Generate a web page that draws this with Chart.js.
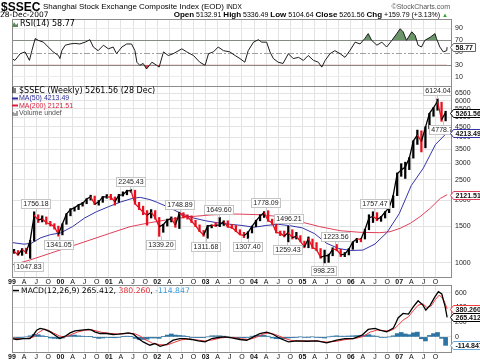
<!DOCTYPE html>
<html>
<head>
<meta charset="utf-8">
<script src="https://cdn.jsdelivr.net/npm/chart.js@4.4.1/dist/chart.umd.min.js"></script>
<style>
  body { margin: 0; background: #fff; }
  #wrap { position: relative; width: 480px; height: 363px; overflow: hidden; font-family: "Liberation Sans", Arial, sans-serif; color: #000; }
  canvas { position: absolute; left: 0; top: 0; }
  .t { position: absolute; white-space: nowrap; line-height: 1; }
  .v { font-family: "DejaVu Sans", sans-serif; }
  .ic { display: inline-block; vertical-align: middle; margin-right: 2px; }
</style>
</head>
<body>
<div id="wrap">
  <canvas id="rsi" width="480" height="363"></canvas>
  <canvas id="price" width="480" height="363"></canvas>
  <canvas id="macd" width="480" height="363"></canvas>

  <div class="t" style="left:1px;top:1px;font-size:12px;font-weight:bold">$SSEC</div>
  <div class="t" style="left:43px;top:3px;font-size:8px">Shanghai Stock Exchange Composite Index (EOD) <span style="font-size:6.5px">INDX</span></div>
  <div class="t" style="right:30px;top:3px;font-size:7px;color:#555">©StockCharts.com</div>
  <div class="t v" style="left:0px;top:11px;font-size:7.5px">28-Dec-2007</div>
  <div class="t" style="right:32px;top:11px;font-size:7px"><b style="font-size:8px">Open</b> 5132.91 <b style="font-size:8px">High</b> 5336.49 <b style="font-size:8px">Low</b> 5104.64 <b style="font-size:8px">Close</b> 5261.56 <b style="font-size:8px">Chg</b> +159.79 (+3.13%) <span style="color:#2a2;font-size:6px">▲</span></div>

  <div class="t v" style="left:12px;top:20px;font-size:8px"><svg class="ic" width="6" height="6"><path d="M0 6 L2 1 L4 4 L6 2 L6 6 Z" fill="#5a8a5a"/></svg>RSI(14) 58.77</div>

  <div class="t v" style="left:12px;top:86.5px;font-size:8px"><svg class="ic" width="5" height="6"><path d="M1 0V6M3 1V6" stroke="#000" stroke-width="1"/></svg>$SSEC (Weekly) 5261.56 (28 Dec)</div>
  <div class="t" style="left:12px;top:94px;font-size:7px;color:#2b2b9a"><svg class="ic" width="6" height="3" style="margin-right:1px"><rect width="6" height="2" y="0.5" fill="#2b2b9a"/></svg>MA(50) 4213.49</div>
  <div class="t" style="left:12px;top:101.5px;font-size:7px;color:#d8203a"><svg class="ic" width="6" height="3" style="margin-right:1px"><rect width="6" height="2" y="0.5" fill="#d8203a"/></svg>MA(200) 2121.51</div>
  <div class="t" style="left:12px;top:109px;font-size:7px;color:#555"><svg class="ic" width="6" height="5" style="margin-right:1px"><path d="M1 5V1M3 5V2M5 5V0" stroke="#666" stroke-width="1.2"/></svg>Volume undef</div>

  <div class="t v" style="left:13px;top:287px;font-size:7.7px"><svg class="ic" width="6" height="3"><rect width="6" height="1.5" y="0.8" fill="#000"/></svg>MACD(12,26,9) 265.412, <span style="color:#e8303a">380.260</span>, <span style="color:#3a9ad8">-114.847</span></div>
</div>

<script>
// x axis: decimal years, quarter gridlines
const xMin = 1999.0;
const xMax = 2008.07;
const quarterTicks = [];
for (let y = 1999; y <= 2007; y++) for (let q = 0; q < 4; q++) quarterTicks.push(y + q / 4);
const monthLetters = ['A', 'J', 'O'];

// weekly $SSEC, read month by month (high / low / close)
const months = Array.from({ length: 108 }, (_, i) => 1999 + (i + 0.5) / 12);
const priceHigh = [
  1160,1145,1170,1175,1280,1756,1700,1680,1660,1580,1540,1500,
  1540,1720,1820,1850,1900,1950,2030,2110,2090,1990,2080,2125,
  2130,2070,2130,2190,2230,2245,2230,1950,1870,1780,1800,1780,
  1650,1530,1620,1660,1650,1749,1740,1700,1680,1600,1520,1430,
  1510,1520,1560,1650,1590,1590,1530,1510,1440,1400,1410,1500,
  1600,1700,1760,1778,1620,1560,1420,1420,1496,1440,1400,1350,
  1270,1330,1300,1250,1170,1150,1100,1180,1224,1160,1120,1170,
  1260,1310,1310,1450,1700,1757,1740,1670,1760,1840,2100,2700,
  2990,3040,3200,3850,4335,4300,4500,5220,5560,6124,5900,5340
];
const priceLow = [
  1110,1085,1085,1105,1048,1270,1560,1570,1530,1500,1450,1341,
  1361,1530,1680,1770,1800,1870,1920,2000,1900,1890,1950,2040,
  2010,1890,1950,2090,2120,2180,1910,1800,1700,1514,1640,1620,
  1339,1400,1500,1570,1480,1460,1640,1620,1560,1490,1410,1340,
  1311,1470,1490,1490,1510,1480,1460,1410,1360,1320,1307,1390,
  1490,1590,1650,1580,1530,1390,1350,1330,1259,1300,1300,1260,
  1180,1180,1170,1140,1050,998,1004,1080,1140,1070,1070,1090,
  1160,1250,1260,1300,1440,1560,1590,1580,1640,1740,1840,2100,
  2600,2540,2800,3180,3700,3404,3563,4400,5050,5400,4778,4800
];
const priceClose = [
  1134,1090,1158,1120,1279,1690,1601,1627,1556,1532,1489,1367,
  1535,1714,1800,1836,1895,1928,2023,2072,1910,1961,2070,2073,
  2066,1960,2112,2119,2214,2218,1920,1834,1746,1690,1748,1646,
  1491,1524,1603,1634,1515,1732,1672,1669,1581,1507,1421,1357,
  1499,1511,1510,1521,1576,1487,1477,1421,1367,1348,1397,1497,
  1590,1675,1742,1595,1555,1399,1386,1342,1396,1320,1340,1266,
  1191,1306,1181,1159,1060,1080,1083,1162,1155,1092,1099,1161,
  1258,1299,1298,1440,1641,1672,1612,1658,1752,1837,2099,2675,
  2786,2881,3183,3841,4109,3820,4471,5219,5552,5954,4871,5262
];
const priceTicks = [1000,1500,2000,2500,3000,3500,4000,4500,5000,5500,6000,6500];

const ma50Dates = [1999.00,1999.25,1999.40,1999.60,1999.80,2000.00,2000.25,2000.50,2000.75,2001.00,2001.25,2001.50,2001.65,2001.85,2002.00,2002.25,2002.50,2002.75,2003.00,2003.25,2003.50,2003.75,2004.00,2004.25,2004.50,2004.75,2005.00,2005.25,2005.50,2005.75,2006.00,2006.25,2006.50,2006.75,2007.00,2007.25,2007.50,2007.75,2007.99];
const ma50Values = [1250,1228,1240,1320,1365,1390,1490,1640,1760,1860,1960,2040,2060,2010,1950,1840,1720,1640,1590,1555,1530,1510,1480,1510,1530,1505,1470,1380,1240,1170,1145,1150,1230,1400,1720,2350,2850,3700,4213.49];
const ma200Dates = [1999.00,1999.37,1999.79,2000.20,2000.61,2001.02,2001.44,2001.85,2002.26,2002.68,2003.09,2003.50,2003.71,2004.13,2004.54,2004.95,2005.36,2005.78,2006.19,2006.60,2006.81,2007.02,2007.23,2007.43,2007.64,2007.85,2007.99];
const ma200Values = [975,1030,1110,1194,1285,1384,1490,1557,1616,1664,1695,1713,1712,1700,1664,1575,1490,1425,1400,1394,1409,1463,1547,1664,1826,2037,2121.51];

// labelled highs (H) and lows (L)
const annDates  = [1999.35,1999.49,1999.97,2001.44,2002.07,2002.47,2003.00,2003.27,2003.87,2004.24,2004.72,2004.69,2005.68,2005.43,2006.48,2007.79,2007.91];
const annValues = [1047.83,1756.18,1341.05,2245.43,1339.20,1748.89,1311.68,1649.60,1307.40,1778.09,1496.21,1259.43,1223.56,998.23,1757.47,6124.04,4778.73];
const annSide   = ['L','H','L','H','L','H','L','H','L','H','H','L','H','L','H','H','L'];

// RSI(14)
const rsiDates = [1999.00,1999.06,1999.17,1999.27,1999.36,1999.41,1999.48,1999.54,1999.65,1999.75,1999.85,1999.96,1999.99,2000.03,2000.10,2000.20,2000.30,2000.40,2000.51,2000.61,2000.68,2000.78,2000.89,2000.99,2001.09,2001.16,2001.27,2001.37,2001.47,2001.54,2001.58,2001.64,2001.71,2001.78,2001.89,2001.99,2002.04,2002.13,2002.23,2002.33,2002.51,2002.61,2002.75,2002.88,2002.99,2003.06,2003.16,2003.26,2003.37,2003.50,2003.61,2003.71,2003.81,2003.88,2003.99,2004.09,2004.16,2004.26,2004.33,2004.40,2004.50,2004.60,2004.71,2004.81,2004.92,2005.02,2005.12,2005.23,2005.33,2005.40,2005.47,2005.57,2005.67,2005.78,2005.88,2005.98,2006.09,2006.19,2006.29,2006.36,2006.43,2006.54,2006.64,2006.74,2006.85,2006.95,2007.02,2007.08,2007.15,2007.26,2007.33,2007.39,2007.46,2007.53,2007.64,2007.74,2007.77,2007.84,2007.91,2007.98,2007.99];
const rsiValues = [40,37,48,51,37,53,73,70,67,59,51,45,40,53,62,64,65,64,67,71,59,53,62,56,59,48,59,64,64,53,34,29,32,23,34,29,26,51,45,48,56,51,45,34,29,48,51,59,53,51,45,40,34,53,67,71,67,67,51,40,34,32,48,40,42,37,45,37,34,26,37,48,53,48,42,53,67,64,73,81,70,62,67,59,70,81,89,84,70,84,78,62,59,70,75,81,73,59,51,53,58.77];
const rsiTicks = [10,30,50,70,90];

// MACD(12,26,9)
const macdDates = [1999.00,1999.10,1999.23,1999.37,1999.44,1999.51,1999.58,1999.68,1999.79,1999.89,1999.99,2000.10,2000.20,2000.30,2000.44,2000.58,2000.65,2000.71,2000.82,2000.96,2001.09,2001.20,2001.30,2001.40,2001.51,2001.61,2001.71,2001.85,2001.95,2002.06,2002.20,2002.33,2002.47,2002.57,2002.71,2002.85,2002.99,2003.13,2003.26,2003.40,2003.54,2003.71,2003.85,2003.99,2004.12,2004.26,2004.40,2004.54,2004.71,2004.88,2005.09,2005.30,2005.50,2005.71,2005.88,2006.05,2006.23,2006.36,2006.50,2006.60,2006.74,2006.88,2006.93,2006.98,2007.08,2007.19,2007.29,2007.39,2007.49,2007.55,2007.64,2007.74,2007.81,2007.88,2007.95,2007.99];
const macdValues = [-22,-35,-22,-22,23,91,115,101,68,23,-22,10,55,82,91,101,91,68,46,46,33,37,46,55,37,-22,-68,-113,-90,-127,-100,-45,-22,-22,-35,-55,-68,-22,-8,0,-13,-35,-45,0,46,64,33,-22,-68,-55,-59,-55,-82,-45,-22,-22,23,101,115,91,68,120,190,260,319,310,409,491,432,364,432,546,614,583,409,265.412];
const signalDates = [1999.00,1999.15,1999.30,1999.45,1999.55,1999.65,1999.75,1999.85,1999.99,2000.10,2000.20,2000.35,2000.50,2000.62,2000.72,2000.85,2001.00,2001.15,2001.30,2001.45,2001.55,2001.65,2001.75,2001.90,2002.05,2002.20,2002.35,2002.50,2002.65,2002.80,2002.99,2003.15,2003.30,2003.45,2003.60,2003.75,2003.90,2004.05,2004.20,2004.32,2004.45,2004.60,2004.75,2004.90,2005.10,2005.30,2005.50,2005.70,2005.90,2006.10,2006.25,2006.40,2006.55,2006.68,2006.80,2006.90,2006.98,2007.08,2007.19,2007.29,2007.39,2007.49,2007.57,2007.66,2007.75,2007.83,2007.90,2007.95,2007.99];
const signalValues = [-15,-25,-20,0,60,100,90,55,10,0,25,65,90,98,85,62,50,40,42,50,40,10,-35,-85,-105,-110,-75,-40,-28,-40,-55,-40,-15,-5,-10,-28,-35,-5,40,55,30,-10,-45,-55,-55,-55,-70,-60,-35,-20,5,65,95,85,80,110,160,228,273,355,430,450,400,420,510,569,520,455,380.26];
const histValues = [
  -8,-12,-5,0,15,35,30,15,5,-15,-20,-25,
  -15,5,20,25,15,10,8,5,-10,-20,-15,-8,
  -10,-12,-5,5,10,5,-20,-35,-35,-30,-15,-15,
  -20,5,25,40,25,20,15,5,-5,-10,-10,-10,
  0,15,15,15,10,0,-5,-10,-10,-12,-8,10,
  20,25,20,10,-15,-25,-25,-25,-15,-10,-5,0,
  -5,-3,0,-5,-10,-15,0,10,15,10,10,12,
  15,18,15,25,30,15,10,-5,-8,0,15,45,
  60,40,30,55,65,-25,-55,20,45,60,-20,-115
];
const macdTicks = [0,200,400,600];

const red = '#e8101e';
const font7 = { family: 'Liberation Sans', size: 7 };
const pts = (xs, ys) => xs.map((x, i) => ({ x: x, y: ys[i] }));

function xAxis(showLabels) {
  return {
    type: 'linear', min: xMin, max: xMax, bounds: 'data', offset: false,
    afterBuildTicks: s => { s.ticks = quarterTicks.map(v => ({ value: v })); },
    afterFit: s => { s.height = showLabels ? 9 : 0; },
    grid: { color: '#e3e3e3', drawTicks: false, offset: false },
    border: { display: false },
    ticks: {
      display: showLabels, autoSkip: false, maxRotation: 0, padding: 1, color: '#111',
      font: ctx => ({ family: 'Liberation Sans', size: 7, weight: (ctx.tick && Math.abs(ctx.tick.value % 1) < 1e-6) ? 'bold' : 'normal' }),
      callback: v => {
        const q = Math.round((v % 1) * 4);
        return q === 0 ? String(Math.round(v) % 100).padStart(2, '0') : monthLetters[q - 1];
      }
    }
  };
}

function yAxis(extra) {
  return Object.assign({
    position: 'right', bounds: 'data',
    afterFit: s => { s.width = 29; },
    grid: { color: '#e3e3e3', drawTicks: false },
    border: { display: false },
    ticks: { padding: 4, font: font7, color: '#222', callback: v => String(v) }
  }, extra);
}

const frame = {
  id: 'frame',
  afterDraw(chart) {
    const a = chart.chartArea, c = chart.ctx;
    c.save();
    c.strokeStyle = '#8c8c8c';
    c.lineWidth = 1;
    c.strokeRect(Math.round(a.left) + 0.5, Math.round(a.top) + 0.5, Math.round(a.right - a.left), Math.round(a.bottom - a.top));
    c.restore();
  }
};

function valueBoxes(items) {
  return {
    id: 'vboxes',
    afterDraw(chart) {
      const c = chart.ctx, ys = chart.scales.y, left = chart.chartArea.right;
      items.forEach(it => {
        const py = Math.round(ys.getPixelForValue(it.value)) + 0.5;
        c.save();
        c.font = 'bold 7px "Liberation Sans"';
        const w = Math.round(c.measureText(it.text).width) + 4, h = 8, x0 = Math.round(left) + 2.5;
        c.beginPath();
        c.moveTo(x0 - 3, py);
        c.lineTo(x0, py - h / 2); c.lineTo(x0 + w, py - h / 2);
        c.lineTo(x0 + w, py + h / 2); c.lineTo(x0, py + h / 2);
        c.closePath();
        c.fillStyle = '#fff'; c.fill();
        c.strokeStyle = it.color; c.lineWidth = 1; c.stroke();
        c.fillStyle = '#111'; c.textBaseline = 'middle'; c.textAlign = 'left';
        c.fillText(it.text, x0 + 2, py + 0.5);
        c.restore();
      });
    }
  };
}

const rsiLines = {
  id: 'rsiLines',
  beforeDatasetsDraw(chart) {
    const c = chart.ctx, a = chart.chartArea, ys = chart.scales.y;
    c.save();
    [[70, []], [30, []], [50, [6, 2, 2, 2]]].forEach(([v, dash]) => {
      const py = Math.round(ys.getPixelForValue(v)) + 0.5;
      c.strokeStyle = v === 50 ? '#a0a0a0' : '#8a8a8a';
      c.lineWidth = 1;
      c.setLineDash(dash);
      c.beginPath(); c.moveTo(a.left, py); c.lineTo(a.right, py); c.stroke();
    });
    c.restore();
  }
};

const annotations = {
  id: 'annotations',
  afterDatasetsDraw(chart) {
    const c = chart.ctx, xs = chart.scales.x, ys = chart.scales.y, a = chart.chartArea;
    c.save();
    c.beginPath(); c.rect(a.left, a.top, a.right - a.left, a.bottom - a.top); c.clip();
    c.font = '7px "Liberation Sans"';
    annDates.forEach((d, i) => {
      const px = xs.getPixelForValue(d), py = ys.getPixelForValue(annValues[i]);
      const up = annSide[i] === 'H';
      const text = annValues[i].toFixed(2);
      const w = Math.round(c.measureText(text).width) + 4, h = 9;
      const cy = up ? py - 8 : py + 8;
      const bx = Math.round(px - w / 2) + 0.5, by = Math.round(cy - h / 2) + 0.5;
      c.strokeStyle = '#c4c4c4'; c.lineWidth = 1;
      c.beginPath(); c.moveTo(Math.round(px) + 0.5, up ? by + h : by); c.lineTo(Math.round(px) + 0.5, py); c.stroke();
      c.fillStyle = '#fff';
      c.fillRect(bx, by, w, h); c.strokeRect(bx, by, w, h);
      c.fillStyle = '#222'; c.textAlign = 'center'; c.textBaseline = 'middle';
      c.fillText(text, bx + w / 2, by + h / 2 + 0.5);
    });
    c.restore();
  }
};

const common = {
  responsive: false, animation: false, events: [],
  plugins: { legend: { display: false }, tooltip: { enabled: false } },
  elements: { point: { radius: 0 }, line: { tension: 0 } }
};

// RSI panel
new Chart(document.getElementById('rsi'), {
  type: 'line',
  data: {
    datasets: [
      { data: pts(rsiDates, rsiValues), borderColor: '#1c1c1c', borderWidth: 1,
        fill: { target: { value: 70 }, above: '#6a966a', below: 'rgba(0,0,0,0)' } },
      { data: pts(rsiDates, rsiValues), borderColor: 'rgba(0,0,0,0)', borderWidth: 0,
        fill: { target: { value: 30 }, above: 'rgba(0,0,0,0)', below: '#c8484a' } }
    ]
  },
  options: Object.assign({}, common, {
    layout: { padding: { left: 12, right: 0, top: 19, bottom: 363 - 86 } },
    scales: {
      x: xAxis(false),
      y: yAxis({
        min: -5, max: 105,
        afterBuildTicks: s => { s.ticks = rsiTicks.map(v => ({ value: v })); },
        grid: { drawTicks: false, color: ctx => (ctx.tick && [30, 50, 70].includes(ctx.tick.value)) ? 'rgba(0,0,0,0)' : '#ececec' }
      })
    }
  }),
  plugins: [rsiLines, frame, valueBoxes([{ value: 58.77, text: '58.77', color: '#666' }])]
});

// price panel
const barColors = priceClose.map((v, i) => (i > 0 && v < priceClose[i - 1]) ? red : '#000');
new Chart(document.getElementById('price'), {
  type: 'line',
  data: {
    datasets: [
      { data: pts(months, priceClose), borderColor: '#000', borderWidth: 1.3,
        segment: { borderColor: ctx => ctx.p1.parsed.y < ctx.p0.parsed.y ? red : '#000' } },
      { type: 'bar', data: months.map((t, i) => ({ x: t, y: [priceLow[i], priceHigh[i]] })),
        backgroundColor: barColors, barThickness: 1.6, borderWidth: 0 },
      { data: pts(ma50Dates, ma50Values), borderColor: '#3434a8', borderWidth: 1 },
      { data: pts(ma200Dates, ma200Values), borderColor: '#e0405a', borderWidth: 1 }
    ]
  },
  options: Object.assign({}, common, {
    layout: { padding: { left: 12, right: 0, top: 86, bottom: 363 - 286 } },
    scales: {
      x: xAxis(true),
      y: yAxis({
        type: 'logarithmic', min: 854, max: 7060,
        afterBuildTicks: s => { s.ticks = priceTicks.map(v => ({ value: v })); }
      })
    }
  }),
  plugins: [frame, annotations, valueBoxes([
    { value: 5261.56, text: '5261.56', color: '#000' },
    { value: 4213.49, text: '4213.49', color: '#3434a8' },
    { value: 2121.51, text: '2121.51', color: '#e0405a' }
  ])]
});

// MACD panel
new Chart(document.getElementById('macd'), {
  type: 'line',
  data: {
    datasets: [
      { data: pts(macdDates, macdValues), borderColor: '#000', borderWidth: 1.3 },
      { data: pts(signalDates, signalValues), borderColor: '#f03a3a', borderWidth: 1 },
      { type: 'bar', data: pts(months, histValues), backgroundColor: '#2c74a4',
        barPercentage: 1, categoryPercentage: 1, borderWidth: 0 }
    ]
  },
  options: Object.assign({}, common, {
    layout: { padding: { left: 12, right: 0, top: 285, bottom: 363 - 361 } },
    scales: {
      x: xAxis(true),
      y: yAxis({
        min: -205, max: 705,
        afterBuildTicks: s => { s.ticks = macdTicks.map(v => ({ value: v })); }
      })
    }
  }),
  plugins: [frame, valueBoxes([
    { value: 380.26, text: '380.260', color: '#f03a3a' },
    { value: 265.412, text: '265.412', color: '#000' },
    { value: -114.847, text: '-114.847', color: '#6aa8d8' }
  ])]
});
</script>
</body>
</html>
